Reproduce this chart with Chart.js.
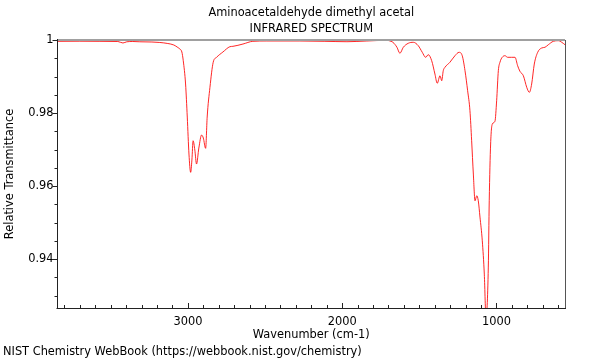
<!DOCTYPE html>
<html>
<head>
<meta charset="utf-8">
<script src="https://cdn.jsdelivr.net/npm/chart.js@4.4.1/dist/chart.umd.min.js"></script>
<style>
  html, body { margin: 0; padding: 0; background: #fff; }
  #wrap { width: 600px; height: 360px; }
</style>
</head>
<body>
<div id="wrap"><canvas id="c" width="600" height="360"></canvas></div>
<script>
const chartTitle = ["Aminoacetaldehyde dimethyl acetal", "INFRARED SPECTRUM"];
const xAxisTitle = "Wavenumber (cm-1)";
const yAxisTitle = "Relative Transmittance";
const footerText = "NIST Chemistry WebBook (https://webbook.nist.gov/chemistry)";

const wavenumbers = [
  3843, 3700, 3570, 3454, 3421, 3396, 3357, 3311, 3233, 3182, 3130, 3091, 3065, 3052, 3039,
  3030, 3015, 3004, 2993, 2982, 2974, 2966, 2955, 2944, 2929, 2911, 2900, 2885, 2875, 2857,
  2836, 2814, 2773, 2728, 2708, 2643, 2579, 2488, 2274, 2112, 1969, 1840, 1710, 1684, 1671,
  1645, 1626, 1604, 1572, 1539, 1507, 1481, 1459, 1442, 1420, 1399, 1384, 1366, 1355, 1345,
  1334, 1302, 1269, 1243, 1222, 1204, 1187, 1172, 1161, 1150, 1139, 1128, 1118, 1107, 1092,
  1079, 1068, 1053, 1047, 1038, 1027, 1010, 999, 988, 977, 963, 945, 928, 902, 880,
  863, 848, 826, 804, 787, 772, 755, 733, 707, 686, 664, 632, 599, 577, 556
];
const transmittance = [
  0.99964, 0.99967, 0.99964, 0.99959, 0.99918, 0.99951, 0.99959, 0.99951, 0.99945, 0.99932, 0.99904, 0.99863, 0.99795, 0.99753, 0.99671,
  0.99433, 0.98795, 0.97890, 0.96877, 0.96375, 0.96712, 0.97241, 0.96986, 0.96603, 0.97041, 0.97397, 0.97315, 0.97033, 0.97890, 0.98704,
  0.99389, 0.99526, 0.99671, 0.99816, 0.99827, 0.99890, 0.99964, 0.99973, 0.99973, 0.99964, 0.99953, 0.99973, 0.99992, 0.99964, 0.99937,
  0.99800, 0.99636, 0.99800, 0.99910, 0.99937, 0.99844, 0.99663, 0.99526, 0.99597, 0.99433, 0.99068, 0.98814, 0.99022, 0.98885, 0.99159,
  0.99252, 0.99389, 0.99570, 0.99663, 0.99570, 0.99159, 0.98611, 0.98063, 0.97241, 0.96329, 0.95597, 0.95734, 0.95597, 0.95151, 0.94501,
  0.93589, 0.92400, 0.93781, 0.95597, 0.97151, 0.97699, 0.97773, 0.98337, 0.99159, 0.99397, 0.99526, 0.99570, 0.99526, 0.99526, 0.99526,
  0.99296, 0.99142, 0.99022, 0.98704, 0.98567, 0.98795, 0.99342, 0.99663, 0.99781, 0.99800, 0.99871, 0.99964, 0.99981, 0.99937, 0.99871
];

const xMajorTicks = [3000, 2000, 1000];
const yMajorTicks = [1, 0.98, 0.96, 0.94];
const xMinorStep = 100;
const yMinorStep = 0.005;
const xRange = [556, 3845];
const yRange = [0.9266, 1.0];

const FONT = "'DejaVu Sans', sans-serif";
const FSIZE = 11.4;

const points = wavenumbers.map((w, i) => ({ x: w, y: transmittance[i] }));

function isMajor(v, step) {
  return Math.abs(v / step - Math.round(v / step)) < 1e-6;
}

const framePlugin = {
  id: 'frame',
  afterDraw(chart) {
    const ctx = chart.ctx;
    const a = chart.chartArea;
    const xs = chart.scales.x, ys = chart.scales.y;
    ctx.save();
    // titles
    ctx.fillStyle = '#000';
    ctx.font = FSIZE + 'px ' + FONT;
    ctx.textAlign = 'center';
    ctx.textBaseline = 'middle';
    const cx = (a.left + a.right) / 2;
    ctx.fillText(chartTitle[0], cx, 13.5);
    ctx.fillText(chartTitle[1], cx, 29.5);
    // footer
    ctx.textAlign = 'left';
    ctx.fillText(footerText, 3, 352.5);

    // frame
    ctx.lineWidth = 2;
    ctx.strokeStyle = '#a0a0a0';
    ctx.beginPath(); ctx.moveTo(a.left, a.top); ctx.lineTo(a.right, a.top); ctx.stroke();
    ctx.lineWidth = 1;
    ctx.strokeStyle = '#555';
    ctx.beginPath(); ctx.moveTo(a.right + 0.5, a.top); ctx.lineTo(a.right + 0.5, a.bottom); ctx.stroke();
    ctx.strokeStyle = '#222';
    ctx.beginPath(); ctx.moveTo(Math.round(a.left) - 0.5, a.top - 1); ctx.lineTo(Math.round(a.left) - 0.5, a.bottom + 0.5); ctx.stroke();
    ctx.beginPath(); ctx.moveTo(a.left - 1, Math.round(a.bottom) + 0.5); ctx.lineTo(a.right + 1, Math.round(a.bottom) + 0.5); ctx.stroke();

    // x ticks (inward)
    ctx.strokeStyle = '#222';
    for (let v = Math.ceil(xRange[0] / xMinorStep) * xMinorStep; v <= xRange[1]; v += xMinorStep) {
      const px = Math.round(xs.getPixelForValue(v)) + 0.5;
      const len = xMajorTicks.includes(v) ? 5 : 3;
      ctx.beginPath(); ctx.moveTo(px, a.bottom); ctx.lineTo(px, a.bottom - len); ctx.stroke();
    }
    // y ticks (outward)
    const n0 = Math.ceil(yRange[0] / yMinorStep - 1e-9);
    const n1 = Math.floor(yRange[1] / yMinorStep + 1e-9);
    for (let n = n0; n <= n1; n++) {
      const v = n * yMinorStep;
      const py = Math.round(ys.getPixelForValue(v)) + 0.5;
      const len = isMajor(v, 0.02) ? 5 : 3;
      ctx.beginPath(); ctx.moveTo(Math.round(a.left) - 0.5, py); ctx.lineTo(Math.round(a.left) - 0.5 - len, py); ctx.stroke();
    }
    ctx.restore();
  }
};

new Chart(document.getElementById('c'), {
  type: 'line',
  data: {
    datasets: [{
      data: points,
      borderColor: 'rgba(255,0,0,0.85)',
      borderWidth: 1,
      pointRadius: 0,
      fill: false,
      cubicInterpolationMode: 'monotone'
    }]
  },
  options: {
    responsive: false,
    animation: false,
    parsing: false,
    layout: { padding: { top: 40, right: 35, left: 0, bottom: 0 } },
    plugins: { legend: { display: false }, tooltip: { enabled: false }, title: { display: false } },
    scales: {
      x: {
        type: 'linear',
        reverse: true,
        min: xRange[0],
        max: xRange[1],
        afterBuildTicks(scale) { scale.ticks = xMajorTicks.map(v => ({ value: v })); },
        afterFit(scale) { scale.height = 52; },
        grid: { display: false, drawTicks: false },
        border: { display: false },
        ticks: {
          color: '#000',
          font: { family: FONT, size: FSIZE },
          padding: 7.5,
          maxRotation: 0,
          autoSkip: false,
          callback: v => String(v)
        },
        title: {
          display: true,
          text: xAxisTitle,
          color: '#000',
          font: { family: FONT, size: FSIZE },
          padding: { top: 0, bottom: 18 }
        }
      },
      y: {
        type: 'linear',
        min: yRange[0],
        max: yRange[1],
        afterBuildTicks(scale) { scale.ticks = yMajorTicks.map(v => ({ value: v })); },
        afterFit(scale) { scale.width = 57.5; },
        grid: { display: false, drawTicks: false },
        border: { display: false },
        ticks: {
          color: '#000',
          font: { family: FONT, size: FSIZE },
          padding: 4,
          autoSkip: false,
          callback: v => String(Math.round(v * 1000) / 1000)
        },
        title: {
          display: true,
          text: yAxisTitle,
          color: '#000',
          font: { family: FONT, size: FSIZE },
          padding: { top: 3.5, bottom: 0 }
        }
      }
    }
  },
  plugins: [framePlugin]
});
</script>
</body>
</html>
